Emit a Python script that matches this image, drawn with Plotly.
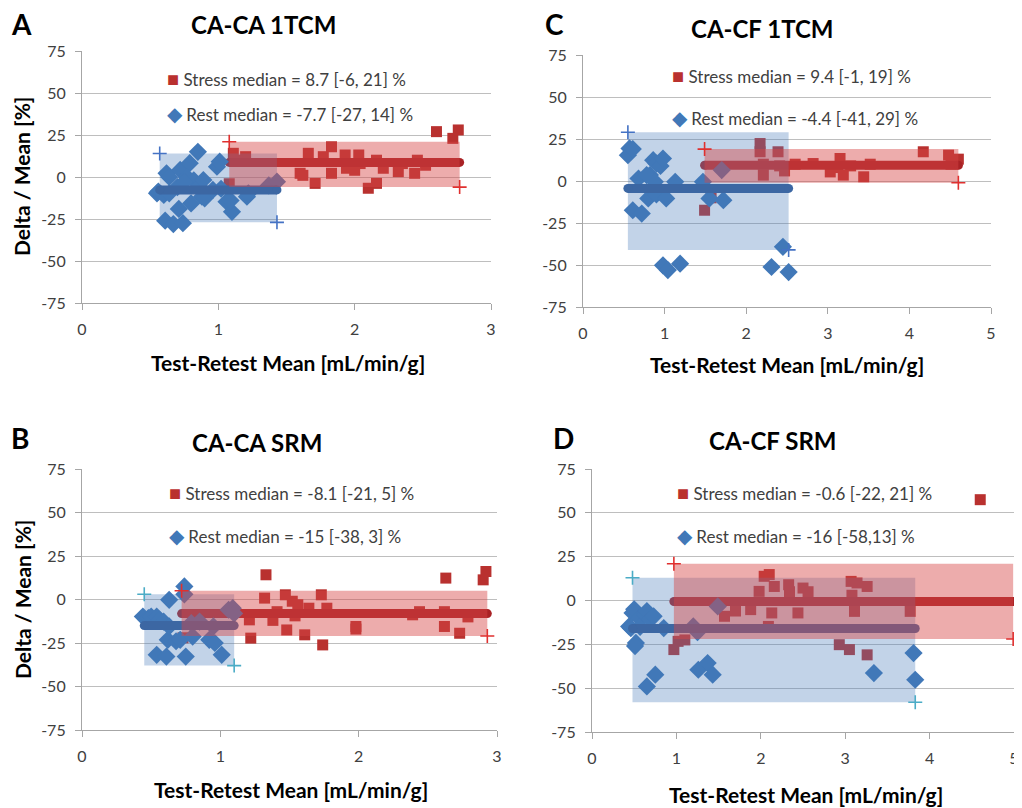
import plotly.graph_objects as go
from plotly.subplots import make_subplots

# page body has an 8px margin, so the figure is drawn 8px smaller
W, H = 1014, 800
OFF = 8

# ---- panel A: CA-CA 1TCM ----
a_rest_x = [0.55, 0.56, 0.60, 0.62, 0.64, 0.61, 0.67, 0.74, 0.72, 0.71, 0.64, 0.79, 0.77, 0.82, 0.80, 0.85,
            0.86, 0.88, 0.89, 0.90, 0.96, 0.99, 1.01, 1.06, 1.10, 1.09, 1.21, 1.22, 1.37, 1.43, 0.70, 0.75, 1.02]
a_rest_y = [-9.7, -8.7, -10.7, 2.2, 0, -26, -28, -27.5, 4.2, -19, -9.7, 8.2, 0, -2, -15.7, 15,
            -5.7, -11.7, -1.8, -12.7, -7.7, 6.1, 9.1, -14.7, -20.7, -14, -11.7, -9.7, -5, -2.8, -6, -3, -7]
a_stress_x = [1.08, 1.11, 1.20, 1.14, 1.60, 1.62, 1.66, 1.71, 1.77, 1.83, 1.83, 1.93, 1.94, 2.00, 2.03, 2.04,
              2.10, 2.16, 2.16, 2.21, 2.32, 2.35, 2.44, 2.46, 2.52, 2.60, 2.72, 2.76]
a_stress_y = [-4, 14.1, 12.1, 10, 2.2, 1, 14.1, -3.8, 12.1, 18, 2.2, 13.1, 5.2, 4, 13.1, 8,
              -6.7, -3.8, 10, 5.2, 3.2, 8, 2.2, 10, 7, 27, 23, 28]

# ---- panel C: CA-CF 1TCM ----
c_rest_x = [0.55, 0.57, 0.61, 0.61, 0.72, 0.68, 0.82, 0.78, 0.86, 0.90, 0.95, 0.98, 0.88, 0.80, 0.90, 1.02,
            0.98, 1.04, 1.19, 1.13, 1.47, 1.55, 1.72, 1.70, 2.45, 2.31, 2.52]
c_rest_y = [15.4, 19.4, 19, -17.4, -19.4, 1.5, 3.5, 3.5, 12.4, 10.4, 9, 13.4, -0.5, -10.4, -8, -10.4,
            -50.2, -53, -49.2, -0.5, -0.5, -10.4, -11.4, 6.5, -39.2, -51.2, -54.2]
c_stress_x = [1.49, 1.57, 2.17, 2.17, 2.21, 2.21, 2.39, 2.41, 2.47, 2.60, 2.82, 3.03, 3.12, 3.15, 3.19, 3.28,
              3.44, 3.52, 4.17, 4.48, 4.51, 4.58, 4.60]
c_stress_y = [-17.4, -10, 22.3, 17.4, 10, 3.5, 17.4, 9, 6, 10, 10.4, 5.4, 8, 13.4, 3.5, 9,
              2.5, 10, 17.4, 15.4, 10, 11, 13]

# ---- panel B: CA-CA SRM ----
b_rest_x = [0.44, 0.48, 0.50, 0.54, 0.56, 0.59, 0.63, 0.54, 0.61, 0.62, 0.63, 0.68, 0.71, 0.74, 0.74, 0.75,
            0.80, 0.79, 0.85, 0.92, 0.95, 0.96, 1.01, 1.06, 1.09, 1.10]
b_rest_y = [-9.8, -10.7, -9.8, -9.8, -11.7, -12.7, -0.2, -31.8, -32.8, -23.2, -15.5, -24, -23.2, 7.5, 3, -32.8,
            -21.3, -13.6, -12.7, -23.2, -15.5, -25, -31.8, -5.9, -5, -8]
b_stress_x = [0.73, 1.21, 1.22, 1.32, 1.33, 1.38, 1.41, 1.47, 1.48, 1.52, 1.54, 1.56, 1.61, 1.64, 1.73, 1.74,
              1.77, 1.98, 1.98, 2.39, 2.44, 2.62, 2.62, 2.63, 2.73, 2.79, 2.90, 2.92]
b_stress_y = [-22, -11.7, -22.2, 0.8, 14.2, -12, -7, 2.7, -17.5, -1, -9.4, -3, -20.3, -5, 2.7, -26.1,
              -5, -15.5, -17, -8.8, -7, -7, -15.5, 12.3, -19.4, -10, 11.3, 16.1]

# ---- panel D: CA-CF SRM ----
d_rest_x = [0.44, 0.46, 0.48, 0.50, 0.52, 0.51, 0.56, 0.57, 0.63, 0.65, 0.69, 0.73, 0.65, 0.75, 0.85, 1.20,
            1.25, 1.26, 1.37, 1.43, 1.49, 3.34, 3.81, 3.83]
d_rest_y = [-14.8, -15.7, -7.1, -5, -24.2, -26, -10, -15, -8.1, -6, -10.7, -9, -49, -42.3, -15.7, -14.8,
            -18, -39.5, -35.7, -42.3, -3.4, -41.4, -30, -45.2]
d_stress_x = [0.97, 1.02, 1.10, 1.57, 1.70, 1.88, 1.98, 2.04, 2.10, 2.09, 2.13, 2.16, 2.33, 2.34, 2.44, 2.50,
              2.56, 2.93, 3.05, 3.07, 3.08, 3.11, 3.14, 3.26, 3.26, 3.77, 4.60]
d_stress_y = [-28, -23.3, -22.5, -9, -6, -5.2, 5.2, 13.8, 14.8, -14.8, -7.1, 8, 9, 5, -7.1, 7.1,
              5, -25.2, -28, 10.9, 3, -6.2, 10, 8, -31, -6.2, 57.5]

# summary stats: median, [low, high], box x-extent
panel_titles = ["CA-CA 1TCM", "CA-CF 1TCM", "CA-CA SRM", "CA-CF SRM"]
panel_letters = ["A", "C", "B", "D"]
rest_median = [-7.7, -4.4, -15, -16]
rest_low = [-27, -41, -38, -58]
rest_high = [14, 29, 3, 13]
rest_x0 = [0.57, 0.55, 0.45, 0.48]
rest_x1 = [1.43, 2.52, 1.10, 3.83]
stress_median = [8.7, 9.4, -8.1, -0.6]
stress_low = [-6, -1, -21, -22]
stress_high = [21, 19, 5, 21]
stress_x0 = [1.08, 1.49, 0.72, 0.97]
stress_x1 = [2.77, 4.60, 2.93, 4.99]
stress_labels = ["Stress median = 8.7 [-6, 21] %", "Stress median = 9.4 [-1, 19] %",
                 "Stress median = -8.1 [-21, 5] %", "Stress median = -0.6 [-22, 21] %"]
rest_labels = ["Rest median = -7.7 [-27, 14] %", "Rest median = -4.4 [-41, 29] %",
               "Rest median = -15 [-38, 3] %", "Rest median = -16 [-58,13] %"]
x_max = [3, 5, 3, 5]
y_ticks = [-75, -50, -25, 0, 25, 50, 75]
y_ticktext = ["-75", "-50", "-25", "0", "25", "50", "75"]

rest_xs = [a_rest_x, c_rest_x, b_rest_x, d_rest_x]
rest_ys = [a_rest_y, c_rest_y, b_rest_y, d_rest_y]
stress_xs = [a_stress_x, c_stress_x, b_stress_x, d_stress_x]
stress_ys = [a_stress_y, c_stress_y, b_stress_y, d_stress_y]

# plot areas in screen pixels (left, right, top, bottom)
boxes = [(82, 491, 51, 303), (583, 991, 55, 307), (82, 497, 469, 730), (592, 1014, 469, 732)]
cross_blue = ["#4472C4", "#4472C4", "#4BACC6", "#4BACC6"]

BLUE = "#4178B8"
BLUE_LINE = "#3C67A3"
RED = "#B9312F"
RED_LINE = "#A92225"
FONT = "Lato"

fig = make_subplots(rows=2, cols=2)
cells = [(1, 1), (1, 2), (2, 1), (2, 2)]


def px(x):
    return (x - OFF) / W


def py(y):
    return 1 - (y - OFF) / H


for i, (r, c) in enumerate(cells):
    # stress points + median line (drawn first, sit under rest box)
    fig.add_trace(go.Scatter(x=stress_xs[i], y=stress_ys[i], mode="markers",
                             marker=dict(symbol="square", size=11, color=RED)), row=r, col=c)
    fig.add_trace(go.Scatter(x=[stress_x0[i], stress_x1[i]], y=[stress_median[i]] * 2, mode="lines+markers",
                             line=dict(color=RED_LINE, width=9),
                             marker=dict(symbol="circle", size=9, color=RED_LINE)), row=r, col=c)
    # rest box
    fig.add_trace(go.Scatter(x=[rest_x0[i], rest_x1[i], rest_x1[i], rest_x0[i], rest_x0[i]],
                             y=[rest_low[i], rest_low[i], rest_high[i], rest_high[i], rest_low[i]],
                             mode="lines", fill="toself", fillcolor="rgba(79,129,189,0.35)",
                             line=dict(width=0)), row=r, col=c)
    fig.add_trace(go.Scatter(x=rest_xs[i], y=rest_ys[i], mode="markers",
                             marker=dict(symbol="diamond", size=14, color=BLUE)), row=r, col=c)
    fig.add_trace(go.Scatter(x=[rest_x0[i], rest_x1[i]], y=[rest_median[i]] * 2, mode="lines+markers",
                             line=dict(color=BLUE_LINE, width=9),
                             marker=dict(symbol="circle", size=9, color=BLUE_LINE)), row=r, col=c)
    # stress box on top
    fig.add_trace(go.Scatter(x=[stress_x0[i], stress_x1[i], stress_x1[i], stress_x0[i], stress_x0[i]],
                             y=[stress_low[i], stress_low[i], stress_high[i], stress_high[i], stress_low[i]],
                             mode="lines", fill="toself", fillcolor="rgba(214,70,70,0.45)",
                             line=dict(width=0)), row=r, col=c)
    # corner crosses
    fig.add_trace(go.Scatter(x=[rest_x0[i], rest_x1[i]], y=[rest_high[i], rest_low[i]], mode="markers",
                             marker=dict(symbol="cross-thin", size=10,
                                         line=dict(color=cross_blue[i], width=1.6))), row=r, col=c)
    fig.add_trace(go.Scatter(x=[stress_x0[i], stress_x1[i]], y=[stress_high[i], stress_low[i]], mode="markers",
                             marker=dict(symbol="cross-thin", size=10,
                                         line=dict(color="#E0302F", width=1.6))), row=r, col=c)

    l, rr, t, b = boxes[i]
    fig.update_xaxes(domain=[px(l), px(rr)], range=[0, x_max[i]], dtick=1, showgrid=False, zeroline=False,
                     automargin=False, ticklabelstandoff=6,
                     showline=True, linecolor="#A6A6A6", linewidth=1.2, ticks="outside", ticklen=6,
                     tickcolor="#A6A6A6", tickfont=dict(family=FONT, size=16, color="#404040"), row=r, col=c)
    fig.update_yaxes(domain=[py(b), py(t)], range=[-75, 75], tickvals=y_ticks, ticktext=y_ticktext,
                     showgrid=True, automargin=False, ticklabelstandoff=6,
                     gridcolor="#BEBEBE", gridwidth=1.2, zeroline=False, showline=True, linecolor="#A6A6A6",
                     linewidth=1.2, ticks="outside", ticklen=6, tickcolor="#A6A6A6",
                     tickfont=dict(family=FONT, size=16, color="#404040"), row=r, col=c)

# text: letters, titles, legends, axis titles (screen pixels)
letter_pos = [(21, 24), (554, 24), (20, 438), (563, 438)]
title_pos = [(263, 25), (762, 28), (257, 442), (773, 440)]
legend_pos = [(165, 78, 113), (670, 75, 117), (167, 492, 535), (675, 492, 535)]
xtitle_pos = [(288, 362), (787, 364), (291, 789), (806, 794)]

ann = []
for i in range(4):
    ann.append(dict(x=px(letter_pos[i][0]), y=py(letter_pos[i][1]), text="<b>%s</b>" % panel_letters[i],
                    font=dict(family=FONT, size=28, color="black")))
    ann.append(dict(x=px(title_pos[i][0]), y=py(title_pos[i][1]), text="<b>%s</b>" % panel_titles[i],
                    font=dict(family=FONT, size=24, color="black")))
    lx, sy, ry = legend_pos[i]
    ann.append(dict(x=px(lx), y=py(sy), xanchor="left",
                    text="<span style='color:%s;font-size:20px'>■</span> %s" % (RED, stress_labels[i]),
                    font=dict(family=FONT, size=17, color="#404040")))
    ann.append(dict(x=px(lx), y=py(ry), xanchor="left",
                    text="<span style='color:%s;font-size:20px'>◆</span> %s" % (BLUE, rest_labels[i]),
                    font=dict(family=FONT, size=17, color="#404040")))
    ann.append(dict(x=px(xtitle_pos[i][0]), y=py(xtitle_pos[i][1]), text="<b>Test-Retest Mean [mL/min/g]</b>",
                    font=dict(family=FONT, size=21, color="black")))
for yc in (177, 600):
    ann.append(dict(x=px(22), y=py(yc), text="<b>Delta / Mean [%]</b>", textangle=-90,
                    font=dict(family=FONT, size=21, color="black")))

for a in ann:
    a.update(xref="paper", yref="paper", showarrow=False)
    a.setdefault("xanchor", "center")
    a["yanchor"] = "middle"

fig.update_layout(width=W, height=H, margin=dict(l=0, r=0, t=0, b=0), showlegend=False,
                  plot_bgcolor="white", paper_bgcolor="white", annotations=ann)

fig.write_html("out.html")
